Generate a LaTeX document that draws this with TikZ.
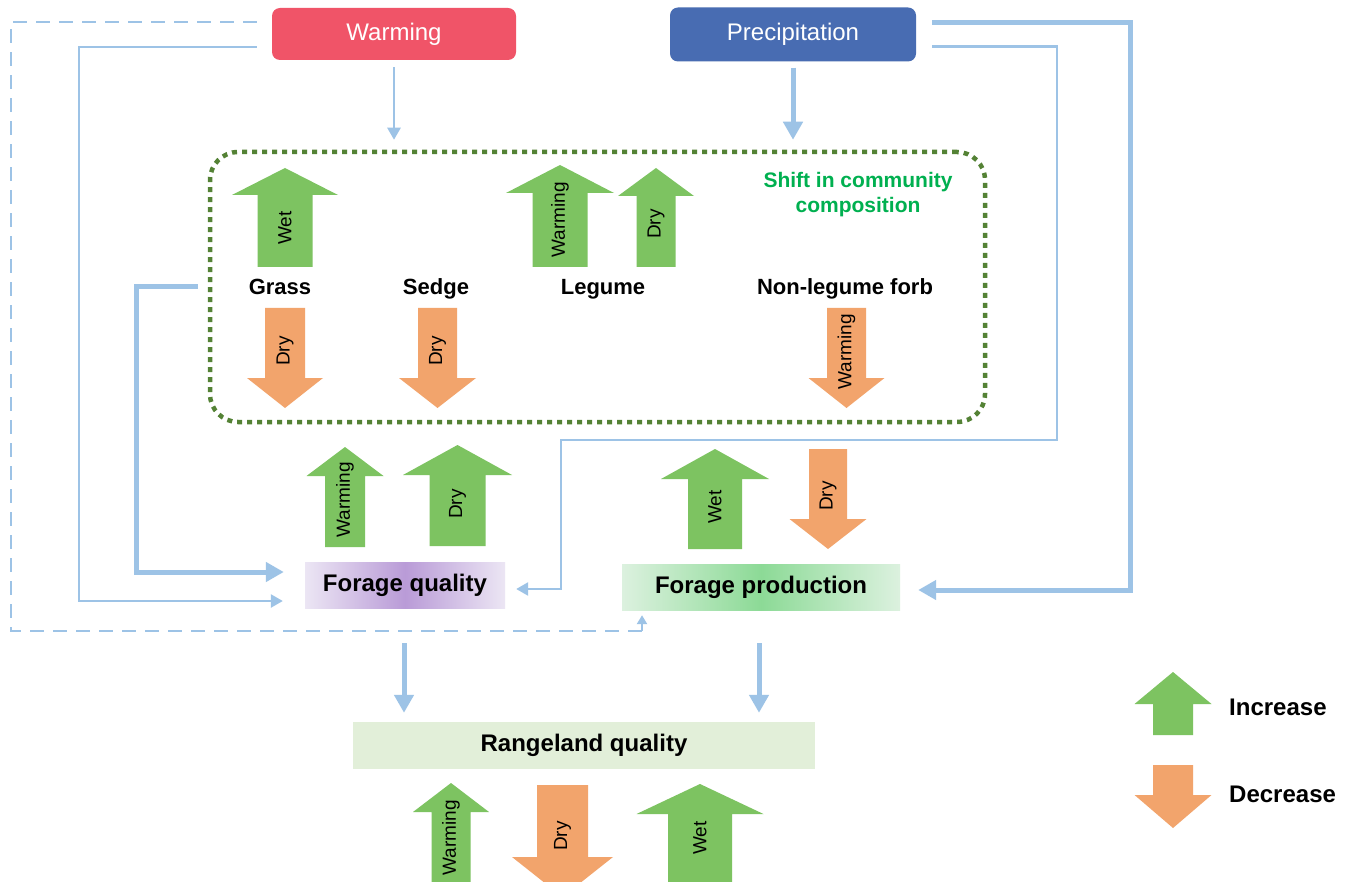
\documentclass[tikz,border=0pt]{standalone}
\usepackage{fontspec}
\setmainfont{Liberation Sans}
\usetikzlibrary{arrows.meta}
\definecolor{lb}{RGB}{157,195,230}
\definecolor{upc}{RGB}{125,195,97}
\definecolor{dnc}{RGB}{242,164,108}
\definecolor{warmc}{RGB}{240,84,104}
\definecolor{precc}{RGB}{72,108,178}
\definecolor{dotg}{RGB}{84,130,53}
\definecolor{shiftg}{RGB}{0,176,80}
\definecolor{fqin}{RGB}{185,155,215}
\definecolor{fqout}{RGB}{236,230,244}
\definecolor{fpin}{RGB}{140,218,150}
\definecolor{fpout}{RGB}{220,241,223}
\definecolor{rqc}{RGB}{226,239,217}
\newcommand\UpArr[9]{%
\fill[upc] ({#2-#7},#4) -- (#2,#3) -- ({#2+#7},#4) -- ({#2+#6},#4) -- ({#2+#6},#5) -- ({#2-#6},#5) -- ({#2-#6},#4) -- cycle;
\node[arrlbl] (#1) at (#2,#8) {#9};}
\newcommand\DnArr[9]{%
\fill[dnc] ({#2-#6},#3) -- ({#2+#6},#3) -- ({#2+#6},#4) -- ({#2+#7},#4) -- (#2,#5) -- ({#2-#7},#4) -- ({#2-#6},#4) -- cycle;
\node[arrlbl] (#1) at (#2,#8) {#9};}
\begin{document}
\begin{tikzpicture}[x=1pt,y=-1pt,
  arrlbl/.style={rotate=90,inner sep=0pt,font=\fontsize{19}{22}\selectfont},
  topbox/.style={rounded corners=8pt,text=white,minimum width=244pt,minimum height=52pt,inner sep=0pt,font=\fontsize{24}{28}\selectfont},
  spl/.style={anchor=base,font=\bfseries\fontsize{22}{26}\selectfont},
  boxlbl/.style={inner sep=0pt,font=\bfseries\fontsize{24}{28}\selectfont},
  ln/.style={draw=lb,line width=2.5pt},
  thinarr/.style={ln,-{Triangle[length=12pt,width=13pt]}},
  thickarr/.style={draw=lb,line width=5pt,-{Triangle[length=18pt,width=19pt]}},
  dashln/.style={draw=lb,line width=2.5pt,dash pattern=on 14pt off 9pt},
  dashtip/.style={draw=lb,line width=2.5pt,-{Triangle[length=9pt,width=10pt]}},
  dotbox/.style={draw=dotg,line width=4.5pt,dash pattern=on 5pt off 5pt,rounded corners=28pt,inner sep=0pt}
]
\useasboundingbox (0,0) rectangle (1354,882);
\fill[white] (0,0) rectangle (1354,882);
\clip (0,0) rectangle (1354,882);

% top boxes
\node[topbox,fill=warmc] (warm) at (394,34) {Warming};
\node[topbox,fill=precc,minimum width=246pt,minimum height=54pt] (prec) at (793,34.5) {Precipitation};

% community box
\node[dotbox,minimum width=775pt,minimum height=270pt] (comm) at (597.5,287) {};
\node[align=center,text=shiftg,font=\bfseries\fontsize{21}{25}\selectfont,inner sep=0pt] (shift) at (858,195) {Shift in community\\composition};

% species labels
\node[spl] (grass) at (280,295) {Grass};
\node[spl] (sedge) at (436,295) {Sedge};
\node[spl] (legume) at (603,295) {Legume};
\node[spl] (nlf) at (845,295) {Non-legume forb};

% block arrows inside community box
\UpArr{gw}{285}{168}{195}{267}{27.5}{53}{228}{Wet}
\UpArr{lw}{560}{165}{193}{267}{27.5}{54}{220}{Warming}
\UpArr{ld}{656}{168}{196}{267}{19.5}{38}{224}{Dry}
\DnArr{gd}{285}{308}{378}{408}{20}{38}{351}{Dry}
\DnArr{sd}{437.5}{308}{378}{408}{19.5}{38.5}{351}{Dry}
\DnArr{nw}{846.5}{308}{378}{408}{19.5}{38}{352}{Warming}

% forage quality / production
\node[boxlbl,minimum width=200pt,minimum height=46pt,left color=fqout,right color=fqout,middle color=fqin] (fq) at (405,585) {Forage quality};
\node[boxlbl,minimum width=278pt,minimum height=46pt,left color=fpout,right color=fpout,middle color=fpin] (fp) at (761,587) {Forage production};
\UpArr{fqw}{345}{447}{476}{547}{20}{38.5}{500}{Warming}
\UpArr{fqd}{457.5}{445}{475}{546}{28}{54.5}{504}{Dry}
\UpArr{fpw}{715}{449}{479}{549}{27}{54}{507}{Wet}
\DnArr{fpd}{828}{449}{519}{549}{19}{38.5}{496}{Dry}

% rangeland
\node[boxlbl,fill=rqc,minimum width=462pt,minimum height=47pt] (rq) at (584,745.5) {Rangeland quality};
\UpArr{rw}{451}{783}{812}{900}{19.5}{38}{838}{Warming}
\DnArr{rd}{562.5}{785}{857}{897}{25.5}{50.5}{836}{Dry}
\UpArr{rwet}{700}{784}{814}{900}{32}{63.5}{838}{Wet}

% legend
\UpArr{legup}{1173}{672}{704}{735}{20}{38.5}{720}{}
\DnArr{legdn}{1173}{765}{795}{828}{20}{38.5}{780}{}
\node[anchor=base west,inner sep=0pt,font=\bfseries\fontsize{24}{28}\selectfont] (inc) at (1229,715) {Increase};
\node[anchor=base west,inner sep=0pt,font=\bfseries\fontsize{24}{28}\selectfont] (dec) at (1229,802) {Decrease};

% connectors
\draw[thinarr] ([yshift=-7pt]warm.south) -- ([yshift=10pt]warm.south |- comm.north);
\draw[thickarr] ([yshift=-6pt]prec.south) -- ([yshift=10pt]prec.south |- comm.north);
\coordinate (dcorner) at ([xshift=-119pt,yshift=-21pt]fp.south);
\draw[dashln] ([xshift=-15pt,yshift=12pt]warm.west) -| ([xshift=-750pt,yshift=-21pt]fp.south) -- (dcorner);
\draw[dashtip] (dcorner) -- ([xshift=-119pt,yshift=-5pt]fp.south);
\draw[thinarr] ([xshift=-15pt,yshift=-13pt]warm.west) -| ([xshift=-226pt,yshift=-16pt]fq.west) -- ([xshift=-22pt,yshift=-16pt]fq.west);
\draw[thickarr] ([xshift=-10pt]comm.west) -| ([xshift=-168pt,yshift=13pt]fq.west) -- ([xshift=-21pt,yshift=13pt]fq.west);
\draw[thinarr] ([xshift=16pt,yshift=-12pt]prec.east) -| ([xshift=552pt,yshift=145pt]fq.east) -| ([xshift=56pt,yshift=-4pt]fq.east) -- ([xshift=11pt,yshift=-4pt]fq.east);
\draw[thickarr] ([xshift=16pt,yshift=11.5pt]prec.east) -| ([xshift=230pt,yshift=-3pt]fp.east) -- ([xshift=18pt,yshift=-3pt]fp.east);
\draw[thickarr] ([xshift=-1pt,yshift=-35pt]fq.south) -- ([xshift=-1pt,yshift=9pt]fq.south |- rq.north);
\draw[thickarr] ([xshift=-2pt,yshift=-33pt]fp.south) -- ([xshift=-2pt,yshift=9pt]fp.south |- rq.north);
\end{tikzpicture}
\end{document}
